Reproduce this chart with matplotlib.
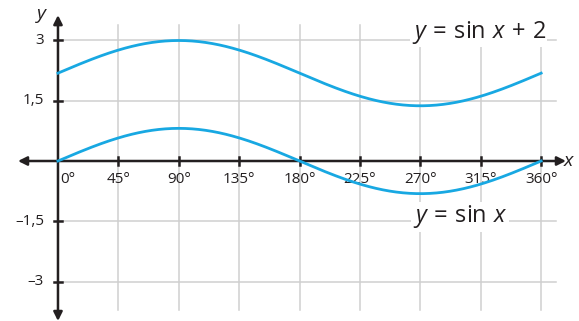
import numpy as np
import matplotlib.pyplot as plt

plt.rcParams['font.family'] = ['Open Sans', 'DejaVu Sans']
plt.rcParams['mathtext.fontset'] = 'custom'
plt.rcParams['mathtext.rm'] = 'Open Sans'
plt.rcParams['mathtext.it'] = 'Open Sans:italic'

# values
x_ticks = [0, 45, 90, 135, 180, 225, 270, 315, 360]
x_labels = ['0°', '45°', '90°', '135°', '180°', '225°', '270°', '315°', '360°']
y_ticks = [-3, -1.5, 1.5, 3]
y_labels = ['–3', '–1,5', '1,5', '3']
amplitude = 0.81      # drawn amplitude of the curves
offset_upper = 2.18   # drawn shift of the upper curve

deg = np.linspace(0, 360, 361)
y_lower = amplitude * np.sin(np.radians(deg))
y_upper = y_lower + offset_upper

blue = '#18a8e2'
dark = '#231f20'
grid_c = '#cfcfcf'

fig = plt.figure(figsize=(5.79, 3.21), dpi=100)
ax = fig.add_axes([0, 0, 1, 1])
ax.set_xlim(-43.2, 388.2)
ax.set_ylim(-3.97, 3.995)
ax.axis('off')

# grid
for xv in x_ticks[1:]:
    ax.plot([xv, xv], [-3.7, 3.37], color=grid_c, lw=1.1, zorder=1)
for yv in y_ticks:
    ax.plot([0, 371], [yv, yv], color=grid_c, lw=1.1, zorder=1)

# axes with arrows
ax.annotate('', xy=(378.5, 0), xytext=(-29.8, 0),
            arrowprops=dict(arrowstyle='<|-|>', color=dark, lw=1.8,
                            mutation_scale=13, shrinkA=0, shrinkB=0), zorder=3)
ax.annotate('', xy=(0, 3.62), xytext=(0, -3.97),
            arrowprops=dict(arrowstyle='<|-|>', color=dark, lw=1.8,
                            mutation_scale=13, shrinkA=0, shrinkB=0), zorder=3)

# tick marks and labels
for xv, lab in zip(x_ticks, x_labels):
    if xv > 0:
        ax.plot([xv, xv], [-0.1, 0.1], color=dark, lw=1.8, zorder=3)
    ha = 'left' if xv == 0 else 'center'
    ax.text(xv + (2 if xv == 0 else 0), -0.47, lab, ha=ha, va='center',
            fontsize=11, color=dark, zorder=2)
for yv, lab in zip(y_ticks, y_labels):
    ax.plot([-3, 3], [yv, yv], color=dark, lw=1.8, zorder=3)
    ax.text(-10.5, yv, lab, ha='right', va='center', fontsize=11, color=dark)

ax.text(376, 0, '$x$', ha='left', va='center', fontsize=14, color=dark)
ax.text(-7, 3.6, '$y$', ha='right', va='center', fontsize=14, color=dark)

# curves
ax.plot(deg, y_upper, color=blue, lw=2, zorder=4)
ax.plot(deg, y_lower, color=blue, lw=2, zorder=4)

ax.text(313.5, 3.2, r'$y\,=\,\mathrm{sin}\ x\,+\,2$',
        ha='center', va='center', fontsize=17, color=dark, zorder=5,
        bbox=dict(fc='white', ec='none', pad=1))
ax.text(299.5, -1.38, r'$y\,=\,\mathrm{sin}\ x$', ha='center', va='center',
        fontsize=17, color=dark, zorder=5,
        bbox=dict(fc='white', ec='none', pad=1))

fig.savefig('out.png', dpi=100)
